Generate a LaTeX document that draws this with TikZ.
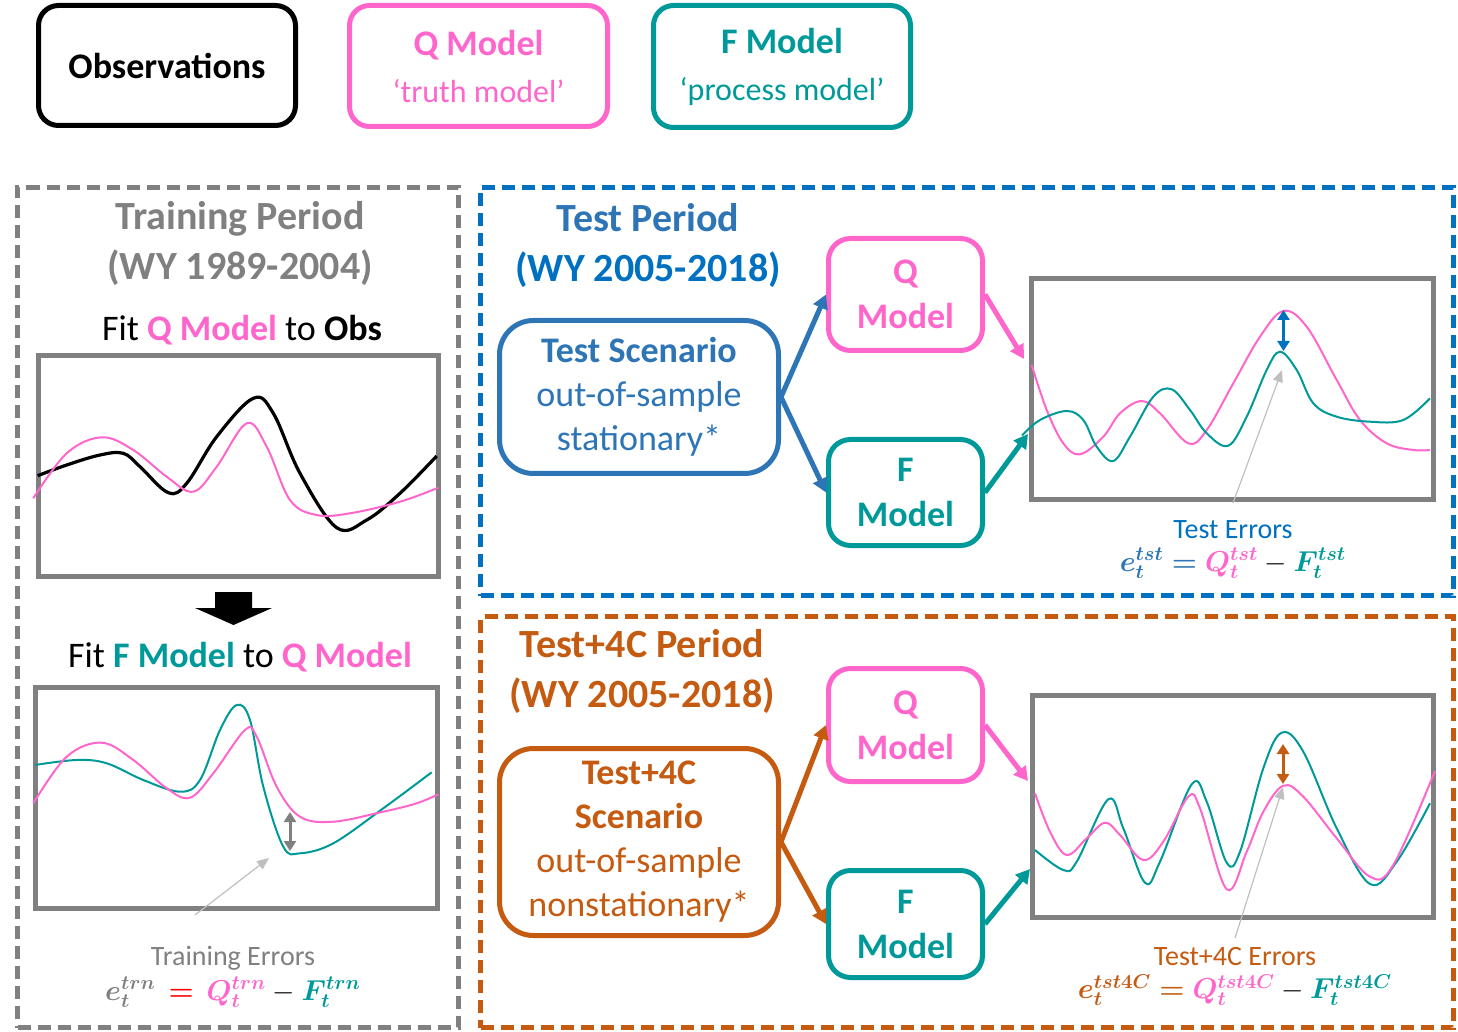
\documentclass[tikz,border=0pt]{standalone}
\usepackage{fontspec}
\setmainfont{Carlito}
\usepackage{bm}
\usetikzlibrary{arrows.meta}
\definecolor{qpink}{HTML}{FF66CC}
\definecolor{fteal}{HTML}{009999}
\definecolor{frgray}{HTML}{808080}
\definecolor{tblue}{HTML}{0070C0}
\definecolor{sblue}{HTML}{2E75B6}
\definecolor{torange}{HTML}{C55A11}
\definecolor{ptgray}{HTML}{BFBFBF}
\begin{document}
\begin{tikzpicture}[x=0.5pt,y=-0.5pt,
  legbox/.style={draw, line width=2.5pt, rounded corners=10pt, inner sep=0pt, align=center, font=\fontsize{18}{22.5}\selectfont},
  modbox/.style={draw, line width=2.5pt, rounded corners=11pt, inner sep=0pt, align=center, font=\fontsize{18}{22.5}\selectfont\bfseries, minimum width=77pt},
  scenbox/.style={draw, line width=2.5pt, rounded corners=17pt, inner sep=0pt, align=center, font=\fontsize{18}{22}\selectfont, minimum width=139.5pt},
  plotframe/.style={draw=frgray, line width=2.5pt, inner sep=0pt},
  periodbox/.style={draw, line width=2.5pt, dash pattern=on 6.5pt off 3.5pt, inner sep=0pt},
  title/.style={align=center, font=\fontsize{20}{25}\selectfont\bfseries, inner sep=0pt},
  sub/.style={font=\fontsize{18}{22}\selectfont, inner sep=0pt},
  errlab/.style={font=\fontsize{14}{17}\selectfont, inner sep=0pt},
  formula/.style={font=\fontsize{14}{17}\selectfont, inner sep=0pt},
  conn/.style={line width=2.5pt, -{Triangle[length=7pt,width=7.5pt]}},
  curve/.style={line width=1pt, smooth, tension=0.6},
  dbl/.style={line width=1.5pt, {Triangle[length=5pt,width=6pt]}-{Triangle[length=5pt,width=6pt]}},
  pointer/.style={draw=ptgray, line width=0.6pt, -{Triangle[length=6pt,width=5pt]}}
]
\useasboundingbox (0,0) rectangle (1458,1032);

% ---------- legend ----------
\node[legbox, draw=black, minimum width=128.5pt, minimum height=60pt] (obs) at (167,65.5) {\bfseries Observations};
\node[legbox, draw=qpink, text=qpink, minimum width=129pt, minimum height=60.5pt] (qleg) at (478.5,66) {{\bfseries Q Model}\\[1pt]{\fontsize{16}{20}\selectfont ‘truth model’}};
\node[legbox, draw=fteal, text=fteal, minimum width=128.5pt, minimum height=61pt] (fleg) at (782,66.5) {{\bfseries F Model}\\[1pt]{\fontsize{16}{20}\selectfont ‘process model’}};

% ---------- period boxes ----------
\node[periodbox, draw=frgray, minimum width=220.5pt, minimum height=420pt] (train) at (238,607.5) {};
\node[periodbox, draw=tblue, minimum width=486.5pt, minimum height=204pt] (test) at (967,391.5) {};
\node[periodbox, draw=torange, minimum width=486.5pt, minimum height=205.5pt] (tfc) at (967,822) {};

% ---------- training ----------
\node[title, text=frgray] (trtitle) at (240,243) {Training Period\\(WY 1989-2004)};
\node[sub] (fitq) at (242,330) {Fit {\bfseries\color{qpink}Q Model} to {\bfseries Obs}};
\node[plotframe, minimum width=200pt, minimum height=110.5pt] (plotA) at (238.5,466) {};
\draw[curve, black, line width=1.6pt] plot coordinates {(37.7,475.7) (66.7,465) (100,455) (123.3,453.3) (140,466.7) (168.3,492.7) (186.7,483.3) (216.7,436.7) (253.3,398.3) (273.3,413.3) (300,473.3) (336.7,527.7) (366.7,520) (400,493.3) (436.7,456)};
\draw[curve, qpink] plot coordinates {(33.3,498.3) (66.7,453.3) (101.7,437.3) (133.3,450) (166.7,476.7) (193.3,491.7) (216.7,466.7) (246.7,423.3) (266.7,446.7) (290,500) (316.7,515) (350,513.3) (400,501.7) (438.3,487.7)};
\fill[black] (215,592) -- (252,592) -- (252,608) -- (272,608) -- (233.5,625) -- (195,608) -- (215,608) -- cycle;
\node[sub] (fitf) at (240,657) {Fit {\bfseries\color{fteal}F Model} to {\bfseries\color{qpink}Q Model}};
\node[plotframe, minimum width=201pt, minimum height=110.5pt] (plotB) at (236.5,798) {};
\draw[curve, fteal] plot coordinates {(35,765) (76.7,760) (106.7,763.3) (143.3,780) (180,791.7) (200,780) (220,730) (236.7,705) (250,720) (263.3,786.7) (283.3,846.7) (300,853.3) (333.3,843.3) (383.3,808.3) (431.7,772.3)};
\draw[curve, qpink] plot coordinates {(33.3,803.3) (66.7,756.7) (101.7,742.7) (133.3,760) (166.7,788.3) (190,797.7) (213.3,773.3) (245,730) (256.7,736.7) (276.7,786.7) (300,816.7) (333.3,821.7) (383.3,811.7) (416.7,803.3) (438.3,794.3)};
\coordinate (trA) at (290,812);
\coordinate (trB) at (290,851);
\draw[dbl, frgray] (trA) -- (trB);
\coordinate (trp0) at (195,915);
\coordinate (trp1) at (269,858);
\draw[pointer] (trp0) -- (trp1);
\node[errlab, text=frgray] (trerr) at (233,958) {Training Errors};
\node[formula] (trform) at (233,992) {$\color{frgray}\bm{e}_{\bm{t}}^{\bm{trn}}\,\color{red}\bm{=}\,\color{qpink}\bm{Q}_{\bm{t}}^{\bm{trn}}\color{black}-\color{fteal}\bm{F}_{\bm{t}}^{\bm{trn}}$};

% ---------- test ----------
\node[title] (tsttitle) at (648,245) {\color{sblue}Test Period\\\color{tblue}(WY 2005-2018)};
\node[scenbox, draw=sblue, text=sblue, minimum height=76.5pt] (scenA) at (639,397) {{\bfseries Test Scenario}\\out-of-sample\\stationary*};
\node[modbox, draw=qpink, text=qpink, minimum height=56pt] (qA) at (905.5,294.5) {Q\\Model};
\node[modbox, draw=fteal, text=fteal, minimum height=53pt] (fA) at (905.5,492.5) {F\\Model};
\draw[conn, sblue] (scenA.east) -- (qA.west);
\draw[conn, sblue] (scenA.east) -- (fA.west);
\node[plotframe, minimum width=201pt, minimum height=110.5pt] (plotC) at (1232.5,389) {};
\coordinate (cq) at (1024,359);
\coordinate (cf) at (1028,434);
\draw[conn, qpink] (qA.east) -- (cq);
\draw[conn, fteal] (fA.east) -- (cf);
\draw[curve, qpink] plot coordinates {(1031.7,365) (1046.7,410) (1063.3,443.3) (1080,454.3) (1103.3,436.7) (1120,413.3) (1141.7,401) (1160,413.3) (1188.3,443.3) (1206.7,430) (1233.3,383.3) (1260,336.7) (1283.3,311) (1306.7,326.7) (1336.7,380) (1360,420) (1386.7,443.3) (1413.3,450) (1430,450)};
\draw[curve, fteal] plot coordinates {(1022,435.5) (1040,420) (1066.7,411) (1083.3,420) (1096.7,446.7) (1113.3,461) (1130,436.7) (1153.3,396.7) (1171.7,389.3) (1190,410) (1206.7,433.3) (1228.3,445.7) (1246.7,416.7) (1266.7,370) (1280,351.7) (1296.7,370) (1313.3,403.3) (1336.7,416.7) (1370,421.7) (1403.3,420) (1430,398.3)};
\coordinate (tsA) at (1283.5,310);
\coordinate (tsB) at (1283.5,351);
\draw[dbl, tblue] (tsA) -- (tsB);
\coordinate (tsp0) at (1233,503);
\coordinate (tsp1) at (1282,370);
\draw[pointer] (tsp0) -- (tsp1);
\node[errlab, text=tblue] (tserr) at (1233,530) {Test Errors};
\node[formula] (tsform) at (1233,563) {$\color{sblue}\bm{e}_{\bm{t}}^{\bm{tst}}\bm{=}\color{qpink}\bm{Q}_{\bm{t}}^{\bm{tst}}\color{black}-\color{fteal}\bm{F}_{\bm{t}}^{\bm{tst}}$};

% ---------- test+4C ----------
\node[title, text=torange] (tfctitle) at (642,671.5) {Test+4C Period\\(WY 2005-2018)};
\node[scenbox, draw=torange, text=torange, minimum height=93.5pt] (scenB) at (639,842) {{\bfseries Test+4C}\\{\bfseries Scenario}\\out-of-sample\\nonstationary*};
\node[modbox, draw=qpink, text=qpink, minimum height=56.5pt] (qB) at (905.5,725) {Q\\Model};
\node[modbox, draw=fteal, text=fteal, minimum height=53.5pt] (fB) at (905.5,924) {F\\Model};
\draw[conn, torange] (scenB.east) -- (qB.west);
\draw[conn, torange] (scenB.east) -- (fB.west);
\node[plotframe, minimum width=200.5pt, minimum height=111pt] (plotD) at (1233,806.5) {};
\coordinate (dq) at (1028,781);
\coordinate (df) at (1030,869);
\draw[conn, qpink] (qB.east) -- (dq);
\draw[conn, fteal] (fB.east) -- (df);
\draw[curve, fteal] plot coordinates {(1035,850) (1063.3,870) (1076.7,861.7) (1108.3,799.3) (1123.3,828.3) (1145,882.7) (1160,861.7) (1191.7,784.3) (1206.7,801.7) (1226.7,862.7) (1240,851.7) (1263.3,768.3) (1281.7,732.7) (1303.3,751.7) (1336.7,828.3) (1370,884) (1396.7,861.7) (1430,803.3)};
\draw[curve, qpink] plot coordinates {(1035,793.3) (1050,831.7) (1066.7,855) (1086.7,838.3) (1105,822.7) (1120,835) (1143.3,860) (1163.3,841.7) (1188.3,796.7) (1200,808.3) (1226.7,889.3) (1246.7,851.7) (1263.3,811.7) (1283.3,785.7) (1303.3,796.7) (1336.7,838.3) (1370,876.7) (1393.3,865) (1435,771)};
\coordinate (tfA) at (1283,744);
\coordinate (tfB) at (1283,784);
\draw[dbl, torange] (tfA) -- (tfB);
\coordinate (tfp0) at (1235,938);
\coordinate (tfp1) at (1283,787);
\draw[pointer] (tfp0) -- (tfp1);
\node[errlab, text=torange] (tferr) at (1235,957) {Test+4C Errors};
\node[formula] (tfform) at (1235,990) {$\color{torange}\bm{e}_{\bm{t}}^{\bm{tst4C}}\bm{=}\color{qpink}\bm{Q}_{\bm{t}}^{\bm{tst4C}}\color{black}-\color{fteal}\bm{F}_{\bm{t}}^{\bm{tst4C}}$};
\end{tikzpicture}
\end{document}
